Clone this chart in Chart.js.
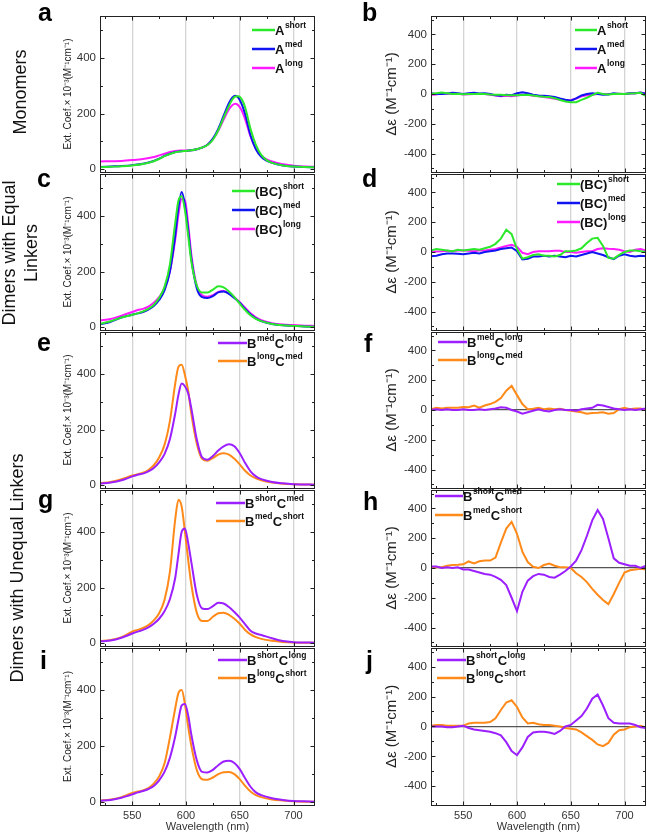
<!DOCTYPE html>
<html><head><meta charset="utf-8">
<script src="https://cdn.jsdelivr.net/npm/chart.js@4.4.1/dist/chart.umd.min.js"></script>
<style>
html,body{margin:0;padding:0;background:#fff;}
#wrap{position:relative;width:647px;height:834px;overflow:hidden;font-family:"Liberation Sans",Arial,sans-serif;}
canvas{position:absolute;}
.lt{position:absolute;font-weight:bold;font-size:25px;color:#000;line-height:25px;z-index:5;}
.row{position:absolute;font-size:18px;color:#111;white-space:nowrap;transform:translate(-50%,-50%) rotate(-90deg);text-align:center;line-height:22px;z-index:5;}
</style></head>
<body><div id="wrap">
<div class="row" style="left:20px;top:92px;">Monomers</div>
<div class="row" style="left:20px;top:253px;">Dimers with Equal<br>Linkers</div>
<div class="row" style="left:17px;top:568px;">Dimers with Unequal Linkers</div>
<div class="lt" style="left:38px;top:0px;">a</div>
<div class="lt" style="left:362px;top:0px;">b</div>
<div class="lt" style="left:37px;top:166px;">c</div>
<div class="lt" style="left:362px;top:166px;">d</div>
<div class="lt" style="left:37px;top:330px;">e</div>
<div class="lt" style="left:364px;top:331px;">f</div>
<div class="lt" style="left:38px;top:487px;">g</div>
<div class="lt" style="left:363px;top:489px;">h</div>
<div class="lt" style="left:40px;top:648px;">i</div>
<div class="lt" style="left:366px;top:648px;">j</div>
</div>
<script>
// ---------------- DATA ----------------
const WL_MONO = [520,530,540,550,560,570,575,580,585,590,595,600,605,610,615,620,625,630,635,640,643,646,649,652,655,660,665,670,675,680,690,700,710,720];
const A_SHORT = [7,9,11,14,19,29,37,47,55,61,64,66,68,72,78,87,106,140,185,228,250,261,262,250,222,145,88,52,33,23,14,10,8,7];
const A_MED   = [8,10,12,15,20,30,38,48,56,62,65,66,68,72,78,88,110,145,192,238,257,264,255,232,198,122,72,45,31,23,14,10,8,7];
const A_LONG  = [28,29,30,33,37,44,50,56,62,66,67,67,68,72,78,88,108,138,178,215,230,235,228,210,180,118,74,50,36,28,18,13,10,9];

const WL_DIM = [520,530,540,550,555,560,565,570,575,580,585,590,593,596,599,602,605,610,615,620,625,630,635,640,645,650,655,660,665,670,680,690,700,710,720];
const BC_SHORT = [12,22,35,45,50,57,66,80,105,145,225,375,455,470,420,330,235,150,125,125,135,147,143,128,108,85,62,43,30,22,12,7,5,3,2];
const BC_MED   = [10,20,35,45,50,55,63,76,98,132,200,330,430,485,440,350,245,140,108,105,112,125,128,120,105,88,66,47,32,22,12,7,5,3,2];
const BC_LONG  = [25,30,42,55,62,66,74,88,108,140,200,315,405,460,455,370,260,150,115,110,115,127,130,122,108,90,70,50,36,26,15,10,8,6,5];
const E_BMED_CLONG = [6,10,18,32,38,42,50,62,82,112,165,258,325,365,355,330,275,165,100,92,105,125,140,147,140,115,80,50,32,22,12,7,4,3,2];
const E_BLONG_CMED = [8,12,22,35,40,45,55,72,100,145,230,365,425,432,395,340,255,150,95,88,98,110,115,110,95,75,52,35,25,18,10,6,4,3,2];
const G_BSHORT_CMED = [7,10,20,35,42,48,57,70,88,115,158,235,320,400,412,360,290,175,125,123,133,145,143,130,112,92,68,45,35,30,18,8,4,3,2];
const G_BMED_CSHORT = [8,12,22,42,48,55,65,82,108,155,255,445,515,490,400,300,210,110,80,80,95,108,110,102,88,70,48,32,22,16,9,5,3,2,2];
const I_BSHORT_CLONG = [5,8,16,28,35,40,47,58,78,108,158,235,295,345,350,310,240,150,108,106,115,132,145,148,140,118,85,55,35,25,14,8,4,3,2];
const I_BLONG_CSHORT = [6,10,18,33,38,42,50,66,92,138,230,335,390,400,350,270,200,115,82,80,88,100,107,108,100,82,58,38,25,18,10,6,3,2,2];

const WL_CD = [520,525,530,535,540,545,550,555,560,565,570,575,580,585,590,595,600,605,610,615,620,625,630,635,640,645,650,655,660,665,670,675,680,685,690,695,700,705,710,715,720];
const CD_A_SHORT = [0,5,10,5,0,2,-2,0,0,2,0,-3,-5,-5,-8,-8,-8,-6,-5,-10,-15,-18,-20,-28,-40,-50,-55,-55,-40,-25,-8,8,0,-3,0,2,0,3,5,8,-15];
const CD_A_MED   = [5,0,0,3,8,5,0,5,8,3,5,0,-8,-12,-5,-8,5,12,5,-5,-10,-12,-15,-20,-30,-38,-45,-30,-10,0,5,0,-5,-3,5,0,0,5,5,10,0];
const CD_A_LONG  = [-5,-3,5,2,0,2,-3,-2,0,0,0,-5,-10,-15,-12,-15,-10,-5,-5,-12,-15,-20,-25,-32,-38,-42,-42,-30,-15,-8,-5,0,0,0,0,2,0,3,5,8,5];
const CD_BC_SHORT = [10,20,15,10,5,15,10,15,20,15,25,35,55,90,150,120,20,-45,-35,-20,-15,-25,-25,-30,-20,5,5,10,25,60,90,95,40,-40,-45,-20,0,10,10,5,0];
const CD_BC_MED   = [-28,-25,-15,-10,-10,-12,-15,-10,-5,-10,0,5,10,20,25,30,5,-50,-45,-30,-30,-25,-30,-25,-30,-35,-25,-30,-20,-10,0,-10,-20,-35,-48,-25,-15,-25,-30,-25,-28];
const CD_BC_LONG  = [0,3,5,8,5,10,10,8,5,10,10,15,20,30,40,48,35,-5,-15,0,5,5,5,8,8,0,0,-5,0,5,5,20,25,22,20,15,5,0,15,20,10];
const CD_F_BMED_CLONG = [0,5,0,5,0,0,5,0,0,5,0,5,10,18,15,0,-10,-25,-15,-5,5,-5,-10,0,5,0,0,-5,5,10,15,35,30,20,10,5,0,5,0,5,10];
const CD_F_BLONG_CMED = [5,15,10,15,15,15,20,18,30,15,30,40,55,80,130,162,100,40,5,8,15,5,10,5,8,0,-5,-10,-15,-25,-20,-18,-15,-25,-20,5,15,5,10,10,0];
const CD_H_BSHORT_CMED = [10,10,0,5,0,5,-10,-10,-20,-30,-40,-45,-60,-80,-115,-200,-290,-160,-85,-55,-40,-45,-60,-65,-45,-20,10,50,120,215,320,390,330,200,65,35,25,15,15,0,15];
const CD_H_BMED_CSHORT = [0,5,5,15,20,22,25,44,30,45,50,50,70,170,265,310,230,110,40,8,0,20,30,15,5,5,0,-35,-60,-95,-140,-180,-215,-243,-175,-100,-30,-15,-10,-5,-10];
const CD_J_BSHORT_CLONG = [0,0,0,-5,-5,0,5,-10,-20,-25,-30,-35,-45,-60,-105,-165,-192,-140,-70,-40,-35,-35,-40,-50,-30,0,10,40,70,120,185,213,140,55,25,20,20,20,10,-5,-10];
const CD_J_BLONG_CSHORT = [5,10,10,5,5,5,5,20,25,25,25,30,55,110,160,175,130,60,20,25,15,10,10,5,0,-10,-15,-20,-40,-65,-90,-120,-132,-110,-55,-25,-20,-5,0,5,-10];

const X_LABEL_TICKS = [550,600,650,700];
const X_MINOR_TICKS = [525,550,575,600,625,650,675,700];
const ABS_LABEL_TICKS = [0,200,400];
const ABS_MINOR_TICKS = [0,100,200,300,400,500];
const CD_LABEL_TICKS = [-400,-200,0,200,400];
const CD_MINOR_TICKS = [-500,-400,-300,-200,-100,0,100,200,300,400,500];

// ---------------- STYLE ----------------
const F = '"Liberation Sans", Arial, sans-serif';
const GREEN='#2BE82B', BLUE='#1014F0', MAGENTA='#FF1AFF', PURPLE='#9B1FFF', ORANGE='#FF8A1A';
const PANEL_TOPS=[15,173,331,489,647], PANEL_H=158;

function drawRich(ctx,label,x,y){
  const re=/\^\{([^}]*)\}|([^^]+)/g; let m;
  ctx.fillStyle='#111'; ctx.textBaseline='alphabetic'; ctx.textAlign='left';
  while((m=re.exec(label))){
    if(m[1]!==undefined){ctx.font='bold 8.5px '+F; ctx.fillText(m[1],x+0.5,y-7); x+=ctx.measureText(m[1]).width+1;}
    else {ctx.font='bold 13px '+F; ctx.fillText(m[2],x,y); x+=ctx.measureText(m[2]).width;}
  }
}

const framePlugin={id:'frame',afterDraw(chart,args,o){
  const {ctx,chartArea:a,scales:{x,y}}=chart;
  const L0=Math.round(a.left)+0.5, R0=Math.round(a.right)-0.5, T0=Math.round(a.top)+0.5, B0=Math.round(a.bottom)+0.5;
  ctx.save(); ctx.strokeStyle='#222'; ctx.lineWidth=1;
  ctx.strokeRect(L0,T0,R0-L0,B0-T0);
  ctx.beginPath();
  for(const v of X_MINOR_TICKS){const px=Math.round(x.getPixelForValue(v))+0.5; const L=X_LABEL_TICKS.includes(v)?4:2.5;
    ctx.moveTo(px,B0);ctx.lineTo(px,B0-L);ctx.moveTo(px,T0);ctx.lineTo(px,T0+L);}
  for(const v of o.yMinor){const py=Math.round(y.getPixelForValue(v))+0.5; if(py<a.top+1||py>a.bottom-1)continue; const L=o.yMajor.includes(v)?4:2.5;
    ctx.moveTo(L0,py);ctx.lineTo(L0+L,py);ctx.moveTo(R0,py);ctx.lineTo(R0-L,py);}
  ctx.stroke(); ctx.restore();
}};
const legendPlugin={id:'rich',afterDraw(chart,args,o){
  const ctx=chart.ctx; ctx.save();
  chart.data.datasets.forEach((ds,i)=>{
    const y=o.rows[i]-o.oy;
    ctx.strokeStyle=ds.borderColor; ctx.lineWidth=2.5; ctx.beginPath();
    ctx.moveTo(o.x0-o.ox,y); ctx.lineTo(o.x1-o.ox,y); ctx.stroke();
    drawRich(ctx,ds.label,o.x1-o.ox,y+4.5);
  });
  ctx.restore();
}};

const PANELS=[
 {row:0,col:0,wl:WL_MONO,series:[['A^{short}',A_SHORT,GREEN],['A^{med}',A_MED,BLUE],['A^{long}',A_LONG,MAGENTA]],leg:{x0:252,x1:275,rows:[30,49,68]}},
 {row:0,col:1,wl:WL_CD,series:[['A^{short}',CD_A_SHORT,GREEN],['A^{med}',CD_A_MED,BLUE],['A^{long}',CD_A_LONG,MAGENTA]],leg:{x0:575,x1:597,rows:[30,49,68]}},
 {row:1,col:0,wl:WL_DIM,series:[['(BC)^{short}',BC_SHORT,GREEN],['(BC)^{med}',BC_MED,BLUE],['(BC)^{long}',BC_LONG,MAGENTA]],leg:{x0:232,x1:255,rows:[191,210,229]}},
 {row:1,col:1,wl:WL_CD,series:[['(BC)^{short}',CD_BC_SHORT,GREEN],['(BC)^{med}',CD_BC_MED,BLUE],['(BC)^{long}',CD_BC_LONG,MAGENTA]],leg:{x0:557,x1:580,rows:[184,203,222]}},
 {row:2,col:0,wl:WL_DIM,series:[['B^{med}C^{long}',E_BMED_CLONG,PURPLE],['B^{long}C^{med}',E_BLONG_CMED,ORANGE]],leg:{x0:218,x1:247,rows:[343,361]}},
 {row:2,col:1,wl:WL_CD,zero:true,series:[['B^{med}C^{long}',CD_F_BMED_CLONG,PURPLE],['B^{long}C^{med}',CD_F_BLONG_CMED,ORANGE]],leg:{x0:438,x1:467,rows:[342,360]}},
 {row:3,col:0,wl:WL_DIM,series:[['B^{short}C^{med}',G_BSHORT_CMED,PURPLE],['B^{med}C^{short}',G_BMED_CSHORT,ORANGE]],leg:{x0:216,x1:245,rows:[503,521]}},
 {row:3,col:1,wl:WL_CD,zero:true,series:[['B^{short}C^{med}',CD_H_BSHORT_CMED,PURPLE],['B^{med}C^{short}',CD_H_BMED_CSHORT,ORANGE]],leg:{x0:435,x1:463,rows:[496,515]}},
 {row:4,col:0,wl:WL_DIM,series:[['B^{short}C^{long}',I_BSHORT_CLONG,PURPLE],['B^{long}C^{short}',I_BLONG_CSHORT,ORANGE]],leg:{x0:218,x1:247,rows:[660,678]}},
 {row:4,col:1,wl:WL_CD,zero:true,series:[['B^{short}C^{long}',CD_J_BSHORT_CLONG,PURPLE],['B^{long}C^{short}',CD_J_BLONG_CSHORT,ORANGE]],leg:{x0:437,x1:466,rows:[660,678]}}
];

const wrap=document.getElementById('wrap');
PANELS.forEach(p=>{
  const abs=p.col===0, bottom=p.row===4;
  const cl=abs?0:322, cw=abs?330:325;
  const ct=PANEL_TOPS[p.row]-10, ch=10+PANEL_H+(bottom?29:10);
  const cv=document.createElement('canvas');
  cv.width=cw; cv.height=ch; cv.style.left=cl+'px'; cv.style.top=ct+'px';
  cv.style.width=cw+'px'; cv.style.height=ch+'px';
  wrap.appendChild(cv);
  new Chart(cv,{type:'line',
    data:{datasets:p.series.map(s=>({label:s[0],data:p.wl.map((x,i)=>({x:x,y:s[1][i]})),borderColor:s[2],borderWidth:2,pointRadius:0,fill:false,
      tension:abs?0.4:0,cubicInterpolationMode:abs?'monotone':'default'}))},
    options:{responsive:false,animation:false,devicePixelRatio:1,
      layout:{padding:{top:10,bottom:bottom?0:10,left:0,right:abs?15:1}},
      plugins:{legend:{display:false},tooltip:{enabled:false},
        frame:{yMinor:abs?ABS_MINOR_TICKS:CD_MINOR_TICKS,yMajor:abs?ABS_LABEL_TICKS:CD_LABEL_TICKS},
        rich:{x0:p.leg.x0,x1:p.leg.x1,rows:p.leg.rows,ox:cl,oy:ct}},
      scales:{
        x:{type:'linear',min:520,max:720,
          afterBuildTicks:s=>{s.ticks=X_LABEL_TICKS.map(v=>({value:v}));},
          afterFit:s=>{s.height=bottom?29:0;},
          grid:{color:'#d4d4d4',lineWidth:1.3,drawTicks:false},
          border:{display:false},
          ticks:{display:bottom,font:{size:11,family:F},color:'#333',padding:4,maxRotation:0,autoSkip:false},
          title:{display:bottom,text:'Wavelength (nm)',font:{size:11,family:F},color:'#333',padding:{top:0,bottom:0}}},
        y:{type:'linear',min:abs?-10:-525,max:abs?550:525,
          afterBuildTicks:s=>{s.ticks=(abs?ABS_LABEL_TICKS:CD_LABEL_TICKS).map(v=>({value:v}));},
          afterFit:s=>{s.width=abs?100:109;},
          grid:{drawTicks:false,lineWidth:1.2,color:c=>(p.zero&&c.tick&&c.tick.value===0)?'#555':'rgba(0,0,0,0)'},
          border:{display:false},
          ticks:{font:{size:11.5,family:F},color:'#333',padding:4},
          title:{display:true,text:abs?'Ext. Coef.× 10⁻³(M⁻¹cm⁻¹)':'Δε (M⁻¹cm⁻¹)',
            font:{size:abs?10:15,family:F},color:'#222',padding:{top:abs?62:61,bottom:0}}}
      }},
    plugins:[framePlugin,legendPlugin]});
});
</script>
</body></html>
